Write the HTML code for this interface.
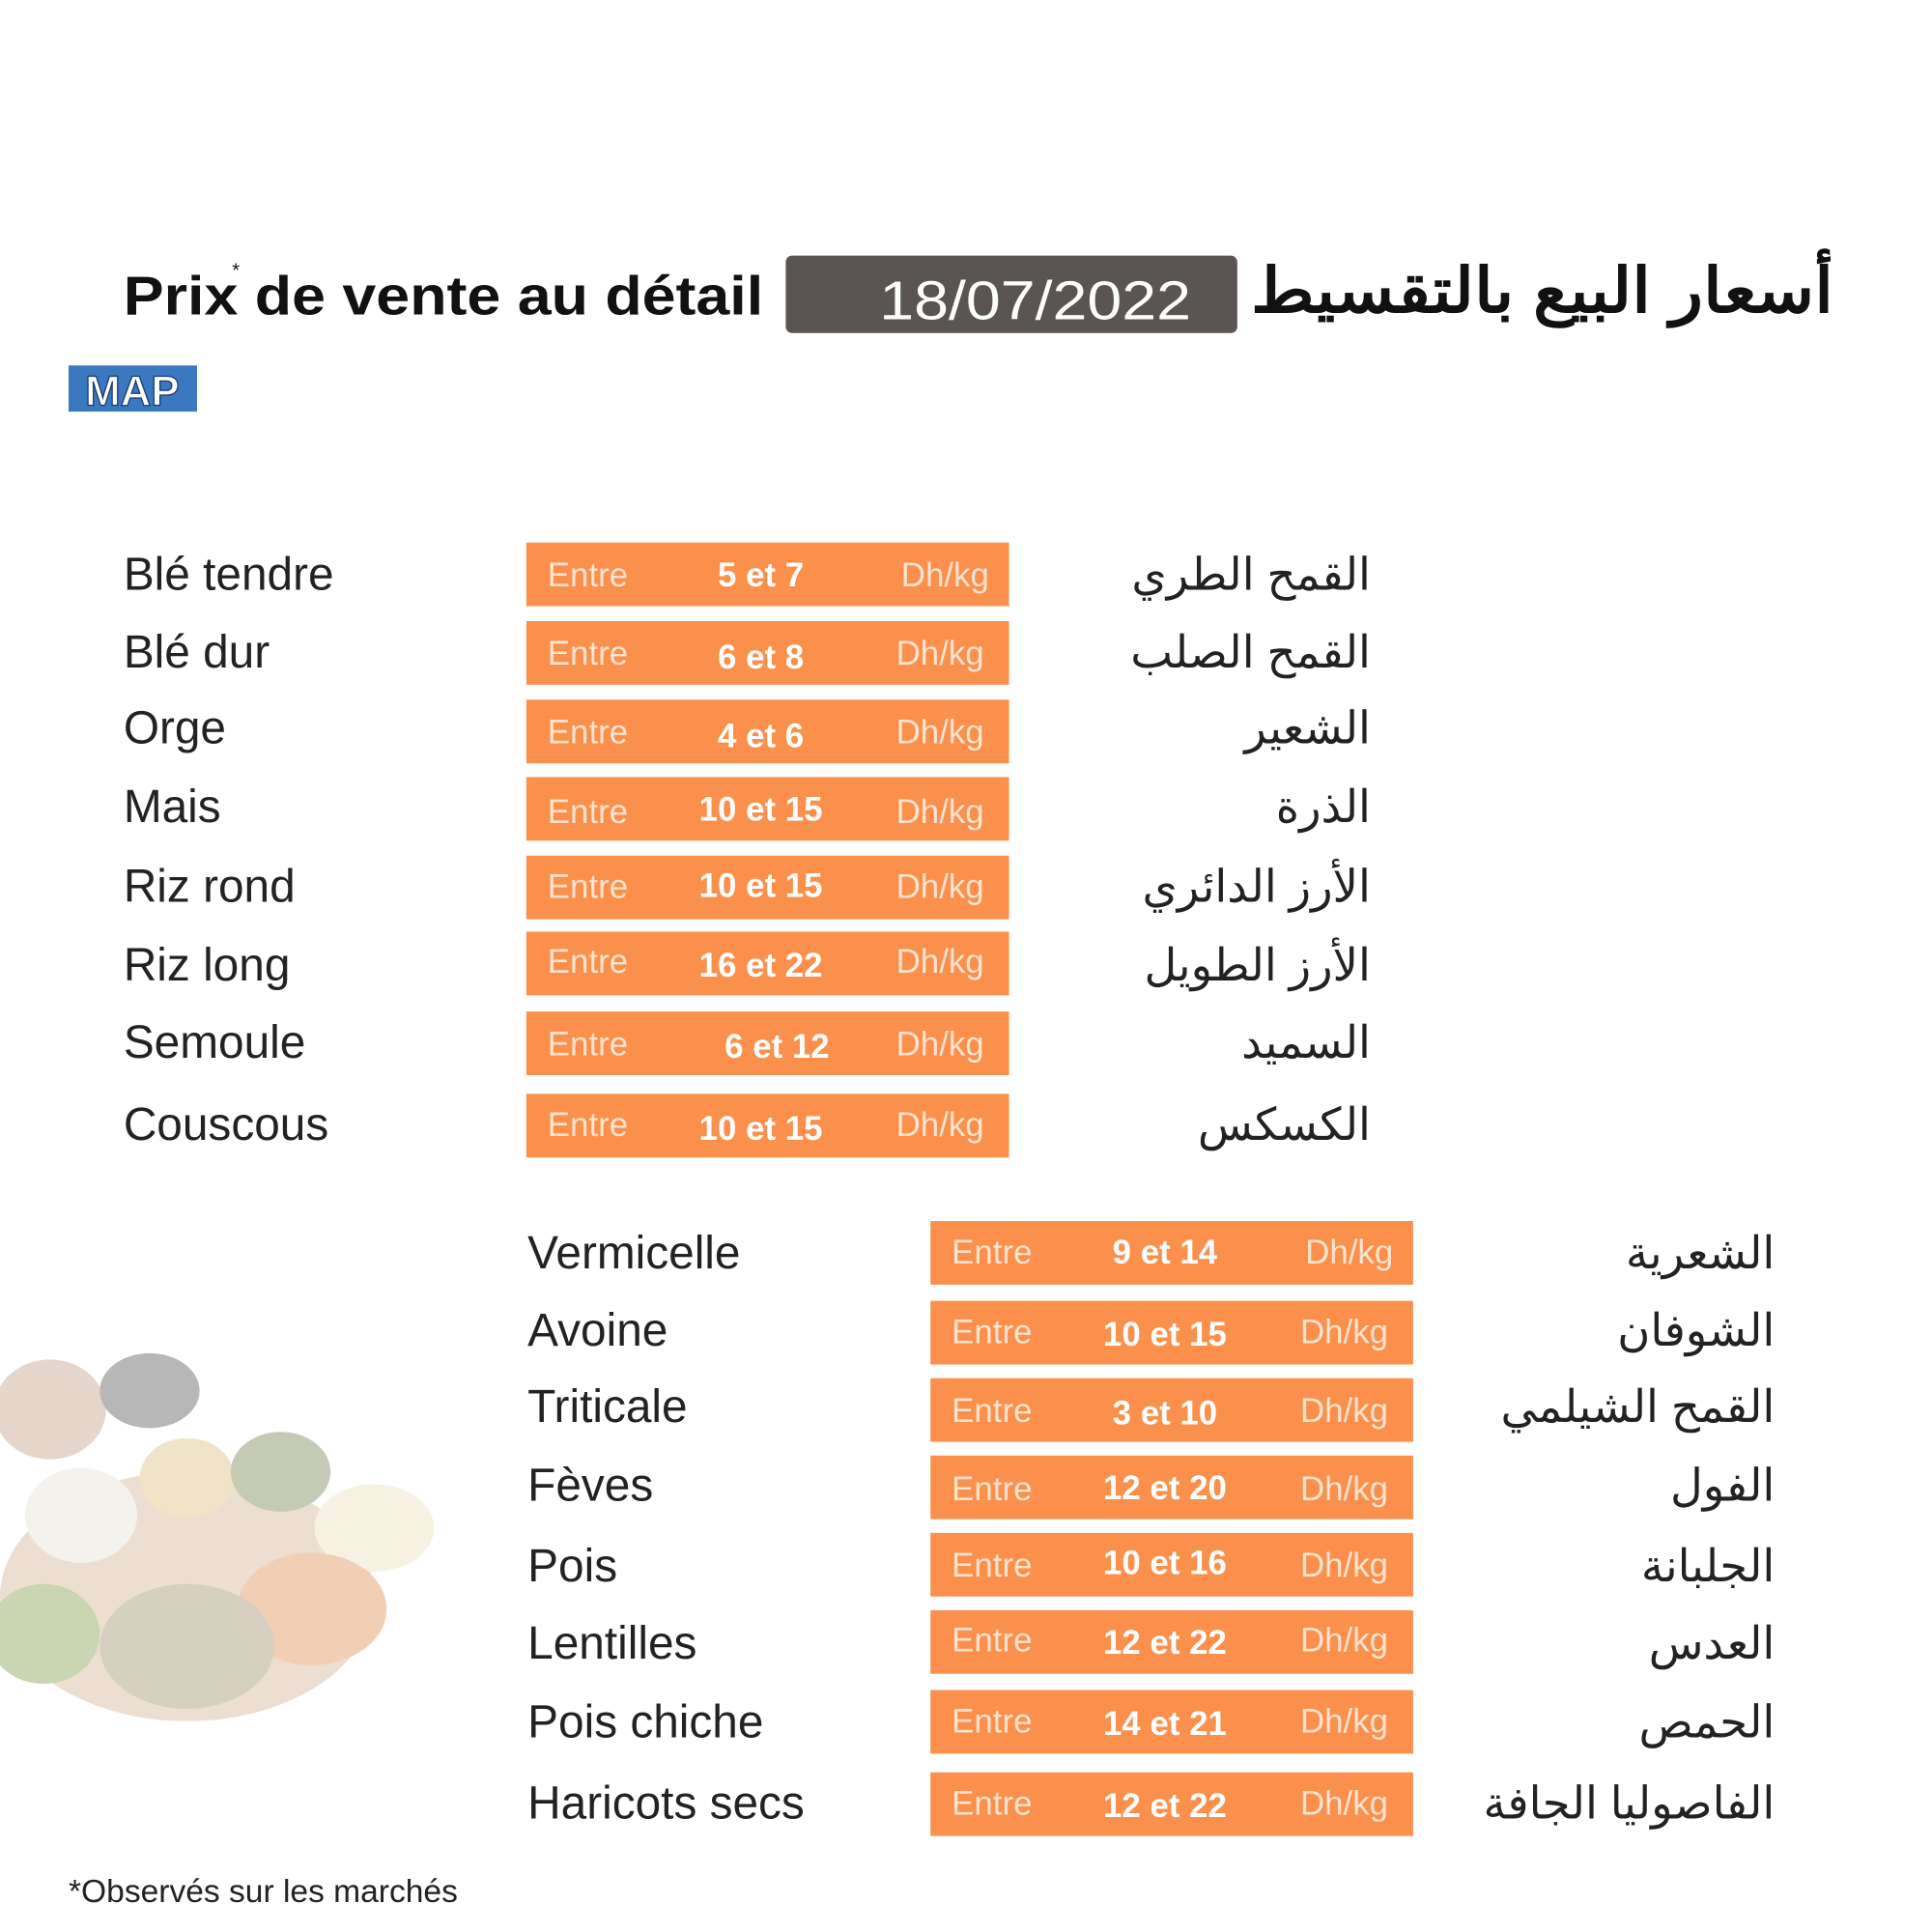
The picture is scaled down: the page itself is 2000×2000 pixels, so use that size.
<!DOCTYPE html>
<html><head><meta charset="utf-8"><style>html,body{margin:0;padding:0;background:#fff}svg{display:block}</style></head>
<body>
<svg width="2000" height="2000" viewBox="0 0 1549 1549" xmlns="http://www.w3.org/2000/svg" font-family="'Liberation Sans','Noto Sans CJK SC',sans-serif">
<rect width="1549" height="1549" fill="#fff"/>
<g opacity="0.35">
<ellipse cx="150" cy="1280" rx="150" ry="100" fill="#c9a27a"/>
<ellipse cx="40" cy="1130" rx="45" ry="40" fill="#b88a6a"/>
<ellipse cx="120" cy="1115" rx="40" ry="30" fill="#333"/>
<ellipse cx="150" cy="1185" rx="38" ry="32" fill="#d8b060"/>
<ellipse cx="225" cy="1180" rx="40" ry="32" fill="#5c6a2c"/>
<ellipse cx="65" cy="1215" rx="45" ry="38" fill="#e0dccc"/>
<ellipse cx="300" cy="1225" rx="48" ry="35" fill="#e8d8b0"/>
<ellipse cx="35" cy="1310" rx="45" ry="40" fill="#6b8a2a"/>
<ellipse cx="250" cy="1290" rx="60" ry="45" fill="#d8782c"/>
<ellipse cx="150" cy="1320" rx="70" ry="50" fill="#8a7a50"/>
</g>
<text x="99" y="252" font-size="44" font-weight="bold" fill="#111" textLength="513" lengthAdjust="spacingAndGlyphs">Prix  de vente au détail</text>
<text x="186" y="222" font-size="16" fill="#111">*</text>
<rect x="630" y="205" width="362" height="62" rx="5" fill="#5a5452"/>
<text x="705" y="256" font-size="44" fill="#fff" textLength="250" lengthAdjust="spacingAndGlyphs">18/07/2022</text>
<text x="1003" y="250" font-size="50" font-weight="bold" fill="#111" textLength="467" lengthAdjust="spacingAndGlyphs">أسعار البيع بالتقسيط</text>
<rect x="55" y="293" width="103" height="37" fill="#3a78c0"/>
<text x="106" y="325" font-size="34" font-weight="bold" fill="#fff" text-anchor="middle" stroke="#1a3a70" stroke-width="1">MAP</text>

<g font-size="37" fill="#222">
<text x="99" y="473">Blé tendre</text>
<text x="99" y="535">Blé dur</text>
<text x="99" y="596">Orge</text>
<text x="99" y="659">Mais</text>
<text x="99" y="723">Riz rond</text>
<text x="99" y="786">Riz long</text>
<text x="99" y="848">Semoule</text>
<text x="99" y="914">Couscous</text>
<text x="423" y="1017">Vermicelle</text>
<text x="423" y="1079">Avoine</text>
<text x="423" y="1140">Triticale</text>
<text x="423" y="1203">Fèves</text>
<text x="423" y="1268">Pois</text>
<text x="423" y="1330">Lentilles</text>
<text x="423" y="1393">Pois chiche</text>
<text x="423" y="1458">Haricots secs</text>
</g>
<g font-size="36" fill="#222" text-anchor="end">
<text x="1099" y="473">القمح الطري</text>
<text x="1099" y="535">القمح الصلب</text>
<text x="1099" y="596">الشعير</text>
<text x="1099" y="659">الذرة</text>
<text x="1099" y="723">الأرز الدائري</text>
<text x="1099" y="786">الأرز الطويل</text>
<text x="1099" y="848">السميد</text>
<text x="1099" y="914">الكسكس</text>
<text x="1423" y="1017">الشعرية</text>
<text x="1423" y="1079">الشوفان</text>
<text x="1423" y="1140">القمح الشيلمي</text>
<text x="1423" y="1203">الفول</text>
<text x="1423" y="1268">الجلبانة</text>
<text x="1423" y="1330">العدس</text>
<text x="1423" y="1393">الحمص</text>
<text x="1423" y="1458">الفاصوليا الجافة</text>
</g>

<g font-size="27">
<g transform="translate(422,435)"><rect width="387" height="51" fill="#fa904c"/><text x="17" y="35" fill="#fde3d0">Entre</text><text x="188" y="35" fill="#fff" font-weight="bold" text-anchor="middle">5 et 7</text><text x="371" y="35" fill="#fde3d0" text-anchor="end">Dh/kg</text></g>
<g transform="translate(422,498)"><rect width="387" height="51" fill="#fa904c"/><text x="17" y="35" fill="#fde3d0">Entre</text><text x="188" y="38" fill="#fff" font-weight="bold" text-anchor="middle">6 et 8</text><text x="367" y="35" fill="#fde3d0" text-anchor="end">Dh/kg</text></g>
<g transform="translate(422,561)"><rect width="387" height="51" fill="#fa904c"/><text x="17" y="35" fill="#fde3d0">Entre</text><text x="188" y="38" fill="#fff" font-weight="bold" text-anchor="middle">4 et 6</text><text x="367" y="35" fill="#fde3d0" text-anchor="end">Dh/kg</text></g>
<g transform="translate(422,623)"><rect width="387" height="51" fill="#fa904c"/><text x="17" y="37" fill="#fde3d0">Entre</text><text x="188" y="35" fill="#fff" font-weight="bold" text-anchor="middle">10 et 15</text><text x="367" y="37" fill="#fde3d0" text-anchor="end">Dh/kg</text></g>
<g transform="translate(422,686)"><rect width="387" height="51" fill="#fa904c"/><text x="17" y="34" fill="#fde3d0">Entre</text><text x="188" y="33" fill="#fff" font-weight="bold" text-anchor="middle">10 et 15</text><text x="367" y="34" fill="#fde3d0" text-anchor="end">Dh/kg</text></g>
<g transform="translate(422,747)"><rect width="387" height="51" fill="#fa904c"/><text x="17" y="33" fill="#fde3d0">Entre</text><text x="188" y="36" fill="#fff" font-weight="bold" text-anchor="middle">16 et 22</text><text x="367" y="33" fill="#fde3d0" text-anchor="end">Dh/kg</text></g>
<g transform="translate(422,811)"><rect width="387" height="51" fill="#fa904c"/><text x="17" y="35" fill="#fde3d0">Entre</text><text x="201" y="37" fill="#fff" font-weight="bold" text-anchor="middle">6 et 12</text><text x="367" y="35" fill="#fde3d0" text-anchor="end">Dh/kg</text></g>
<g transform="translate(422,877)"><rect width="387" height="51" fill="#fa904c"/><text x="17" y="34" fill="#fde3d0">Entre</text><text x="188" y="37" fill="#fff" font-weight="bold" text-anchor="middle">10 et 15</text><text x="367" y="34" fill="#fde3d0" text-anchor="end">Dh/kg</text></g>
<g transform="translate(746,979)"><rect width="387" height="51" fill="#fa904c"/><text x="17" y="34" fill="#fde3d0">Entre</text><text x="188" y="34" fill="#fff" font-weight="bold" text-anchor="middle">9 et 14</text><text x="371" y="34" fill="#fde3d0" text-anchor="end">Dh/kg</text></g>
<g transform="translate(746,1043)"><rect width="387" height="51" fill="#fa904c"/><text x="17" y="34" fill="#fde3d0">Entre</text><text x="188" y="36" fill="#fff" font-weight="bold" text-anchor="middle">10 et 15</text><text x="367" y="34" fill="#fde3d0" text-anchor="end">Dh/kg</text></g>
<g transform="translate(746,1105)"><rect width="387" height="51" fill="#fa904c"/><text x="17" y="35" fill="#fde3d0">Entre</text><text x="188" y="37" fill="#fff" font-weight="bold" text-anchor="middle">3 et 10</text><text x="367" y="35" fill="#fde3d0" text-anchor="end">Dh/kg</text></g>
<g transform="translate(746,1167)"><rect width="387" height="51" fill="#fa904c"/><text x="17" y="36" fill="#fde3d0">Entre</text><text x="188" y="35" fill="#fff" font-weight="bold" text-anchor="middle">12 et 20</text><text x="367" y="36" fill="#fde3d0" text-anchor="end">Dh/kg</text></g>
<g transform="translate(746,1229)"><rect width="387" height="51" fill="#fa904c"/><text x="17" y="35" fill="#fde3d0">Entre</text><text x="188" y="33" fill="#fff" font-weight="bold" text-anchor="middle">10 et 16</text><text x="367" y="35" fill="#fde3d0" text-anchor="end">Dh/kg</text></g>
<g transform="translate(746,1291)"><rect width="387" height="51" fill="#fa904c"/><text x="17" y="33" fill="#fde3d0">Entre</text><text x="188" y="35" fill="#fff" font-weight="bold" text-anchor="middle">12 et 22</text><text x="367" y="33" fill="#fde3d0" text-anchor="end">Dh/kg</text></g>
<g transform="translate(746,1355)"><rect width="387" height="51" fill="#fa904c"/><text x="17" y="34" fill="#fde3d0">Entre</text><text x="188" y="36" fill="#fff" font-weight="bold" text-anchor="middle">14 et 21</text><text x="367" y="34" fill="#fde3d0" text-anchor="end">Dh/kg</text></g>
<g transform="translate(746,1421)"><rect width="387" height="51" fill="#fa904c"/><text x="17" y="34" fill="#fde3d0">Entre</text><text x="188" y="36" fill="#fff" font-weight="bold" text-anchor="middle">12 et 22</text><text x="367" y="34" fill="#fde3d0" text-anchor="end">Dh/kg</text></g>
</g>
<text x="55" y="1525" font-size="26" fill="#222">*Observés sur les marchés</text>
</svg>
</body></html>
